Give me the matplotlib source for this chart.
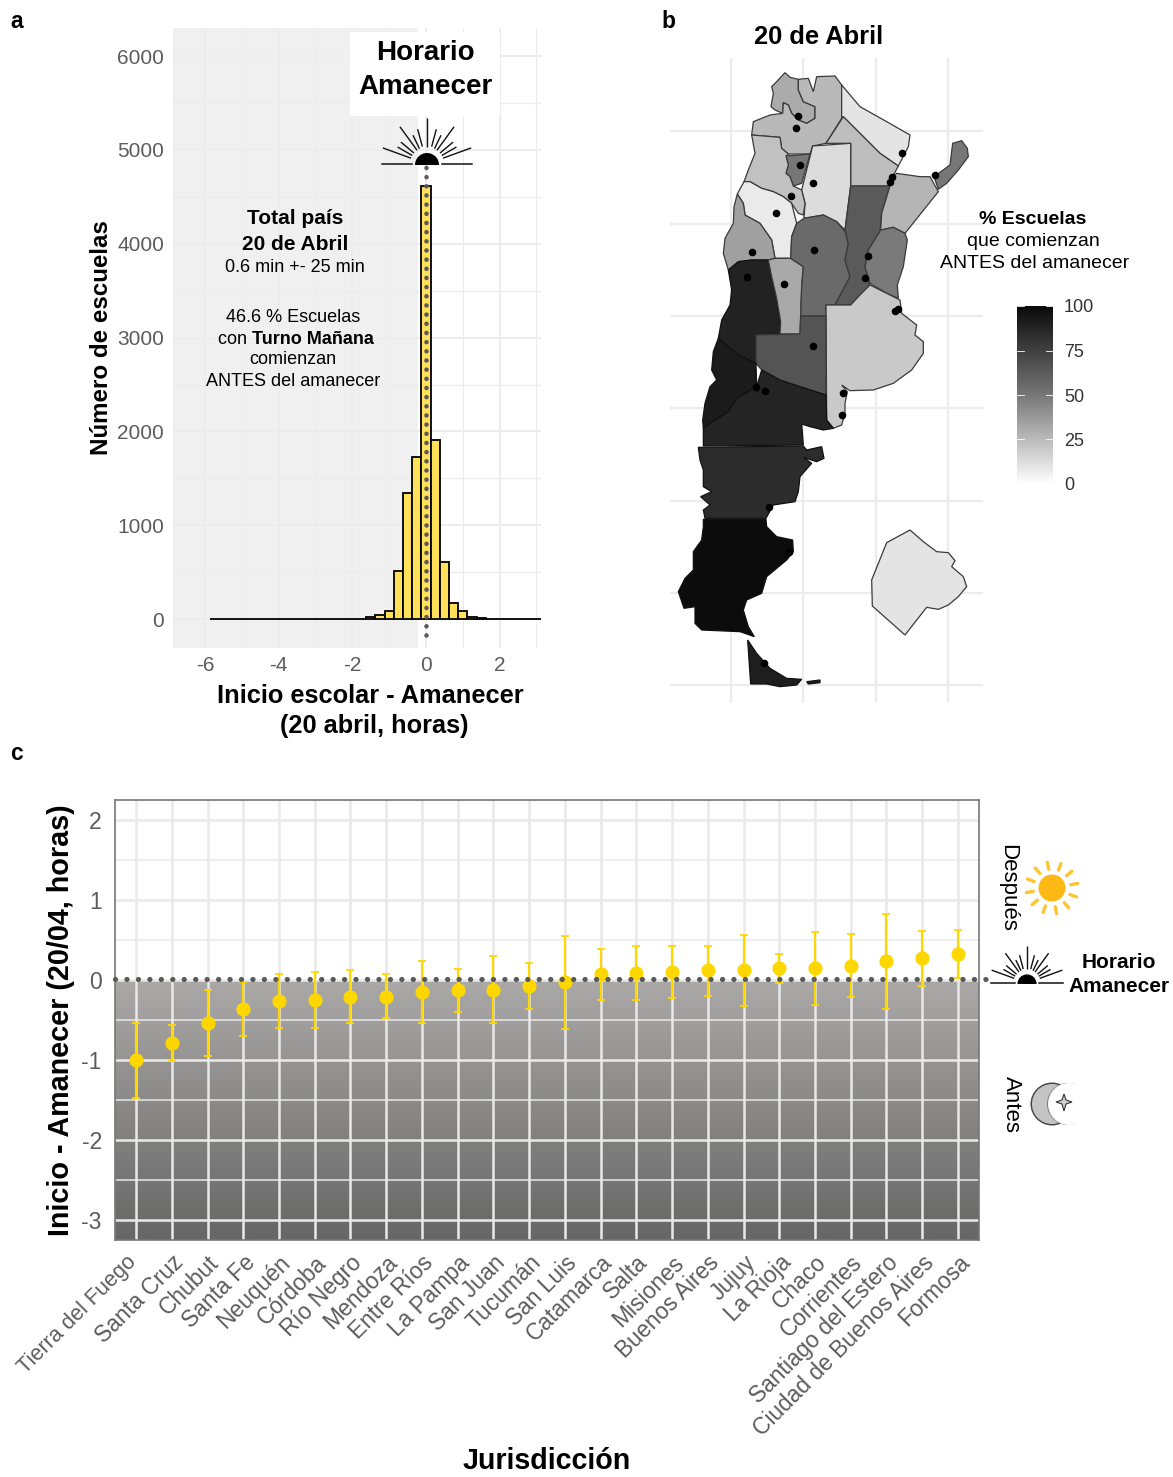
import matplotlib
matplotlib.use('Agg')
import matplotlib.pyplot as plt
import numpy as np
from matplotlib.colors import LinearSegmentedColormap, Normalize
from matplotlib.patches import Polygon, Rectangle, Circle, Wedge
from matplotlib.transforms import ScaledTranslation

plt.rcParams['font.family'] = ['Liberation Sans', 'DejaVu Sans']
plt.rcParams['axes.unicode_minus'] = False

W, H = 1173, 1477

# panel a
hist_centers = np.arange(-5.75, 3.01, 0.25)
hist_counts = [1, 0, 0, 0, 0, 0, 0, 0, 0, 0, 0, 0, 0, 1, 1, 2,
               5, 20, 40, 82, 511, 1339, 1723, 4620, 1908, 604, 170, 85,
               25, 10, 5, 3, 2, 6, 3, 2]

# panel c
jurisdicciones = ['Tierra del Fuego', 'Santa Cruz', 'Chubut', 'Santa Fe', 'Neuquén',
                  'Córdoba', 'Río Negro', 'Mendoza', 'Entre Ríos', 'La Pampa',
                  'San Juan', 'Tucumán', 'San Luis', 'Catamarca', 'Salta', 'Misiones',
                  'Buenos Aires', 'Jujuy', 'La Rioja', 'Chaco', 'Corrientes',
                  'Santiago del Estero', 'Ciudad de Buenos Aires', 'Formosa']
medias = [-1.0, -0.79, -0.54, -0.36, -0.26, -0.25, -0.21, -0.21, -0.15, -0.13, -0.12, -0.08,
          -0.03, 0.075, 0.09, 0.10, 0.12, 0.125, 0.145, 0.145, 0.18, 0.24, 0.27, 0.32]
sup = [-0.54, -0.56, -0.12, -0.02, 0.075, 0.10, 0.12, 0.07, 0.24, 0.14, 0.30, 0.21,
       0.55, 0.39, 0.43, 0.43, 0.425, 0.56, 0.33, 0.60, 0.58, 0.83, 0.61, 0.62]
inf = [-1.47, -1.01, -0.95, -0.70, -0.60, -0.60, -0.54, -0.475, -0.54, -0.40, -0.54, -0.36,
       -0.61, -0.25, -0.25, -0.225, -0.20, -0.32, -0.04, -0.31, -0.21, -0.36, -0.07, 0.02]

# panel b, outlines
pct_antes = {'Jujuy': 31, 'Salta': 26, 'Formosa': 10, 'Chaco': 24, 'Santiago del Estero': 13,
             'Tucumán': 50, 'Catamarca': 23, 'La Rioja': 8, 'San Juan': 35, 'Mendoza': 89,
             'San Luis': 32, 'Córdoba': 56, 'Santa Fe': 63, 'Corrientes': 27, 'Misiones': 50,
             'Entre Ríos': 49, 'Buenos Aires': 20, 'La Pampa': 66, 'Neuquén': 92,
             'Río Negro': 88, 'Chubut': 84, 'Santa Cruz': 99, 'Tierra del Fuego': 91,
             'Islas': 91, 'CABA': 10}
contornos = {
    'Jujuy': [(375,68),(390,82),(415,88),(415,120),(430,155),(465,170),(465,205),(440,220),(415,210),(395,190),(385,165),(370,158),(368,190),(345,180),(333,170),(340,130),(335,110),(350,95)],
    'Salta': [(415,88),(445,85),(460,125),(470,80),(525,78),(545,105),(545,205),(498,280),(458,288),(450,312),(385,312),(365,295),(360,262),(275,255),(280,215),(330,195),(368,190),(370,158),(385,165),(395,190),(415,210),(440,220),(465,205),(465,170),(430,155),(415,120)],
    'Formosa': [(545,105),(600,170),(680,215),(750,255),(745,290),(715,348),(660,310),(610,260),(550,200),(545,205)],
    'Chaco': [(550,200),(610,260),(660,310),(715,348),(695,385),(690,408),(572,408),(572,280),(498,280)],
    'Santiago del Estero': [(458,288),(572,280),(572,408),(555,540),(530,515),(490,495),(432,505),(435,460),(425,420),(450,320)],
    'Tucumán': [(378,318),(450,312),(425,400),(400,408),(390,380),(378,370),(385,345)],
    'Catamarca': [(275,255),(360,262),(365,295),(385,312),(378,318),(385,345),(378,370),(390,380),(400,408),(425,420),(435,460),(430,495),(415,490),(395,460),(370,440),(340,425),(305,415),(270,395),(252,395),(265,360),(285,310)],
    'La Rioja': [(252,395),(270,395),(305,415),(340,425),(370,440),(395,460),(410,520),(395,560),(392,625),(345,625),(335,570),(300,520),(255,495),(250,460),(232,432)],
    'San Juan': [(232,432),(250,460),(255,495),(300,520),(335,570),(345,625),(325,630),(275,630),(235,635),(205,660),(190,610),(195,565),(220,520),(222,470)],
    'Mendoza': [(205,660),(235,635),(275,630),(325,630),(335,680),(350,745),(362,830),(360,852),(288,855),(288,940),(235,915),(175,865),(185,810),(210,765),(215,720)],
    'San Luis': [(325,630),(345,625),(392,625),(430,650),(425,710),(422,795),(420,852),(360,852),(362,815),(350,745),(335,680)],
    'Córdoba': [(410,520),(432,505),(490,495),(530,515),(555,545),(565,580),(555,630),(570,680),(525,765),(498,765),(498,798),(422,798),(425,710),(430,650),(392,625),(395,560)],
    'Santa Fe': [(572,408),(690,408),(665,490),(660,545),(625,600),(615,650),(630,710),(600,735),(572,765),(525,765),(570,680),(555,630),(565,580),(555,540)],
    'Corrientes': [(710,370),(780,380),(810,380),(835,425),(735,550),(700,532),(662,540),(665,490),(690,408),(695,385)],
    'Misiones': [(822,380),(870,345),(878,280),(905,272),(922,295),(925,320),(895,360),(860,400),(835,418)],
    'Entre Ríos': [(662,540),(700,532),(735,550),(742,570),(730,650),(712,705),(715,745),(680,730),(630,700),(615,650),(625,600)],
    'Buenos Aires': [(572,765),(600,735),(630,705),(680,730),(720,750),(725,790),(770,825),(765,855),(790,875),(790,910),(755,960),(700,1000),(640,1020),(570,1022),(545,1005),(562,1025),(555,1060),(555,1090),(545,1125),(520,1135),(500,1110),(498,765)],
    'La Pampa': [(288,855),(420,852),(422,798),(498,798),(498,1035),(420,1010),(360,990),(305,960),(288,940)],
    'Neuquén': [(175,865),(235,915),(288,940),(290,1010),(230,1045),(205,1085),(165,1110),(130,1135),(128,1110),(135,1060),(150,1010),(170,990),(155,960),(160,905)],
    'Río Negro': [(290,1010),(305,960),(360,990),(420,1010),(498,1035),(500,1110),(520,1135),(490,1140),(450,1130),(425,1122),(430,1185),(130,1188),(130,1135),(165,1110),(205,1085),(230,1045)],
    'Chubut': [(115,1192),(430,1188),(440,1200),(485,1190),(492,1225),(470,1235),(430,1222),(455,1240),(420,1280),(415,1325),(405,1355),(340,1365),(318,1405),(135,1405),(130,1380),(150,1365),(122,1340),(155,1325),(130,1310),(130,1260),(120,1230)],
    'Santa Cruz': [(130,1408),(318,1408),(320,1430),(350,1460),(398,1470),(400,1505),(380,1530),(320,1580),(305,1630),(260,1650),(250,1680),(265,1730),(283,1760),(240,1745),(125,1740),(105,1720),(105,1670),(72,1675),(55,1625),(75,1585),(100,1560),(100,1505),(125,1470),(130,1430)],
    'Tierra del Fuego': [(263,1770),(290,1810),(330,1855),(380,1885),(425,1888),(410,1905),(360,1910),(320,1902),(272,1902)],
    'Islas': [(440,1895),(480,1890),(480,1898),(445,1902)],
    'CABA': [(750,1440),(790,1475),(830,1505),(865,1508),(885,1532),(875,1550),(910,1580),(920,1610),(895,1640),(865,1665),(835,1678),(800,1672),(735,1755),(637,1668),(635,1590),(680,1478)],
}
capitales_x = [414, 409, 420, 460, 394, 348, 275, 262, 371, 463, 726, 697, 689, 824, 623, 616, 459, 715, 705, 289, 316, 327, 388, 311, 548, 545]
capitales_y = [198, 234, 345, 400, 437, 489, 606, 682, 703, 600, 310, 380, 397, 376, 618, 685, 888, 778, 783, 1011, 1022, 1370, 1505, 1840, 1028, 1095]

escala_gris = LinearSegmentedColormap.from_list('gris', ['#ffffff', '#777777', '#0a0a0a'])
norma = Normalize(0, 100)

GRID = '#ececec'
TICK = '#5c5c5c'
DOTS = '#5a5a5a'


def axes_px(fig, left, top, right, bottom, **kw):
    return fig.add_axes([left / W, 1 - bottom / H, (right - left) / W, (bottom - top) / H], **kw)


def sunrise(ax, cx, cy, s=1.0):
    # rayos largos y cortos alrededor de la media luna negra
    for ang, r0, r1 in [(90, 17, 46), (126, 17, 46), (54, 17, 46), (160, 17, 47), (20, 17, 47),
                        (105, 18, 36), (75, 18, 36), (116, 17, 32), (64, 17, 32),
                        (140, 17, 34), (40, 17, 34), (150, 17, 34), (30, 17, 34)]:
        a = np.deg2rad(ang)
        ax.plot([cx + s * r0 * np.cos(a), cx + s * r1 * np.cos(a)],
                [cy - s * r0 * np.sin(a), cy - s * r1 * np.sin(a)],
                color='#111111', lw=1.0, solid_capstyle='butt')
    ax.plot([cx - s * 45, cx - s * 15], [cy, cy], color='#111111', lw=1.1)
    ax.plot([cx + s * 15, cx + s * 45], [cy, cy], color='#111111', lw=1.1)
    ax.add_patch(Wedge((cx, cy + 1), 12 * s, 180, 360, color='black', lw=0))


fig = plt.figure(figsize=(W / 100, H / 100), dpi=100)

# ---- a ----
ax = axes_px(fig, 173, 28, 541, 648)
ax.set_xlim(-6.875, 3.125)
ax.set_ylim(-308, 6300)
ax.add_patch(Rectangle((-6.875, -308), 6.65, 6608, color='#f0f0f0', lw=0, zorder=0))
ax.set_xticks([-6, -4, -2, 0, 2])
ax.set_xticks([-5, -3, -1, 1, 3], minor=True)
ax.set_yticks([0, 1000, 2000, 3000, 4000, 5000, 6000])
ax.set_yticks([500, 1500, 2500, 3500, 4500, 5500], minor=True)
ax.grid(True, which='major', color=GRID, lw=1.4, zorder=1)
ax.grid(True, which='minor', color=GRID, lw=0.9, zorder=1)
ax.set_axisbelow(True)
ax.tick_params(which='both', length=0, labelsize=15, labelcolor=TICK)
ax.tick_params(axis='y', pad=6.3)
ax.tick_params(axis='x', pad=5.5)
for s in ax.spines.values():
    s.set_visible(False)
ax.bar(hist_centers, hist_counts, width=0.25, color='#ffe05a', edgecolor='black', lw=1.3, zorder=3)
ax.plot([0, 0], [-170, 4850], color=DOTS, lw=3.3, linestyle=(0, (0.01, 1.99)),
        dash_capstyle='round', zorder=4, clip_on=False)
ax.set_xlabel('Inicio escolar - Amanecer', fontsize=18.3, fontweight='bold')
ax.xaxis.set_label_coords((370 - 173) / 368, -(696 - 648) / 620, transform=ax.transAxes)
ax.xaxis.label.set_va('center')
ax.set_ylabel('Número de escuelas', fontsize=17.4, fontweight='bold')
ax.yaxis.set_label_coords((113 - 173) / 368, (648 - 338) / 620, transform=ax.transAxes)

# ---- b ----
mp = axes_px(fig, 670, 58, 983, 703)
mp.set_xlim(30, 969)
mp.set_ylim(1959, 24)
mp.set_xticks([212, 430, 647, 863])
mp.set_yticks([243, 521, 798, 1075, 1352, 1630, 1906])
mp.grid(True, color=GRID, lw=1.6, zorder=0)
mp.set_axisbelow(True)
mp.tick_params(length=0, labelbottom=False, labelleft=False)
for s in mp.spines.values():
    s.set_visible(False)
for nombre, puntos in contornos.items():
    borde = '#111111' if pct_antes[nombre] > 80 else '#3a3a3a'
    mp.add_patch(Polygon(puntos, closed=True, facecolor=escala_gris(norma(pct_antes[nombre])),
                         edgecolor=borde, lw=0.9, zorder=2))
mp.scatter(capitales_x, capitales_y, s=30, color='black', lw=0, zorder=3)

# colorbar
cb = axes_px(fig, 1017, 306, 1053, 484)
cb.imshow(np.linspace(100, 0, 256).reshape(-1, 1), cmap=escala_gris, norm=norma, aspect='auto',
          extent=[0, 1, 0, 100])
cb.set_xticks([])
cb.set_yticks([0, 25, 50, 75, 100])
cb.yaxis.tick_right()
cb.tick_params(length=0, labelsize=13, labelcolor='#333333', pad=8)
for v in [0, 25, 50, 75, 100]:
    cb.plot([0, 0.2], [v, v], color='white', lw=0.6)
    cb.plot([0.8, 1], [v, v], color='white', lw=0.6)
cb.set_xlim(0, 1)
cb.set_ylim(0, 100)
for s in cb.spines.values():
    s.set_visible(False)

# ---- c ----
cx = axes_px(fig, 115, 800, 979, 1240)
cx.imshow(np.linspace(0, 1, 256).reshape(-1, 1), cmap=LinearSegmentedColormap.from_list('f', ['#aba9a8', '#666666']),
          aspect='auto', extent=[0.41, 24.59, -3.25, -0.02], zorder=0)
cx.set_xlim(0.41, 24.59)
cx.set_ylim(-3.25, 2.25)
posiciones = np.arange(1, len(jurisdicciones) + 1)
cx.set_xticks(posiciones)
cx.set_xticklabels(jurisdicciones, rotation=45, ha='right', va='top', rotation_mode='anchor')
cx.set_yticks([-3, -2, -1, 0, 1, 2])
cx.set_yticks([-2.5, -1.5, -0.5, 0.5, 1.5], minor=True)
cx.grid(True, which='major', color='#e9e9e9', lw=1.8, zorder=1)
cx.grid(True, which='minor', color='#e9e9e9', lw=1.1, zorder=1)
cx.tick_params(which='both', length=0, labelcolor=TICK)
cx.tick_params(axis='x', labelsize=16.4, pad=8)
cx.tick_params(axis='y', labelsize=16.5, pad=9.5)
for s in cx.spines.values():
    s.set_color('#777777')
    s.set_linewidth(1.2)
# esta etiqueta queda mas corta y corrida en el original
tierra = cx.get_xticklabels()[0]
tierra.set_fontsize(15.6)
tierra.set_transform(tierra.get_transform() + ScaledTranslation(-0.10, 0, fig.dpi_scale_trans))
medias_arr = np.array(medias)
cx.errorbar(posiciones, medias, yerr=[medias_arr - np.array(inf), np.array(sup) - medias_arr], fmt='o',
            color='#ffd700', ms=9.2, elinewidth=1.6, capsize=2.6, capthick=1.3, zorder=4)
cx.plot([0.41, 24.85], [0.012, 0.012], color=DOTS, lw=3.8, linestyle=(0, (0.01, 2.16)),
        dash_capstyle='round', zorder=5, clip_on=False)
cx.set_ylabel('Inicio - Amanecer (20/04, horas)', fontsize=20.7, fontweight='bold')
cx.yaxis.set_label_coords((75 - 115) / 864, (1240 - 1020) / 440, transform=cx.transAxes)
fig.text(547 / W, 1 - 1461 / H, 'Jurisdicción', fontsize=20.6, fontweight='bold', ha='center', va='center')

# capa de texto e iconos en pixeles
top = fig.add_axes([0, 0, 1, 1], zorder=10)
top.set_xlim(0, W)
top.set_ylim(H, 0)
top.axis('off')

top.text(374, 726, '(20 abril, horas)', fontsize=18.3, fontweight='bold', ha='center', va='center')

top.add_patch(Rectangle((350, 32), 150, 84, color='white', lw=0))
for txt, y in [('Horario', 53), ('Amanecer', 87)]:
    top.text(425, y, txt, fontsize=20, fontweight='bold', ha='center', va='center')
sunrise(top, 427, 164)

top.text(295, 219, 'Total país', fontsize=15, fontweight='bold', ha='center', va='center')
top.text(295, 245, '20 de Abril', fontsize=15, fontweight='bold', ha='center', va='center')
top.text(295, 268, '0.6 min +- 25 min', fontsize=13, ha='center', va='center')
top.text(293, 318, '46.6 % Escuelas', fontsize=13, ha='center', va='center')
top.text(252, 339, 'con ', fontsize=13, ha='right', va='center')
top.text(252, 339, 'Turno Mañana', fontsize=13, fontweight='bold', ha='left', va='center')
top.text(293, 360, 'comienzan', fontsize=13, ha='center', va='center')
top.text(293, 381, 'ANTES del amanecer', fontsize=13, ha='center', va='center')

top.text(10, 22, 'a', fontsize=16.5, fontweight='bold', va='center')
top.text(661, 22, 'b', fontsize=16.5, fontweight='bold', va='center')
top.text(10, 753, 'c', fontsize=16.5, fontweight='bold', va='center')

top.text(819, 37, '20 de Abril', fontsize=18.4, fontweight='bold', ha='center', va='center')
top.text(1033, 219, '% Escuelas', fontsize=14, fontweight='bold', ha='center', va='center')
top.text(1033, 242, 'que comienzan', fontsize=14, ha='center', va='center')
top.text(1035, 264, 'ANTES del amanecer', fontsize=14, ha='center', va='center')

top.text(1008, 888, 'Después', fontsize=16, rotation=-90, ha='center', va='center')
top.text(1011, 1104, 'Antes', fontsize=16, rotation=-90, ha='center', va='center')
top.text(1119, 963, 'Horario', fontsize=15, fontweight='bold', ha='center', va='center')
top.text(1119, 987, 'Amanecer', fontsize=15, fontweight='bold', ha='center', va='center')
sunrise(top, 1027, 983, 0.8)

# sol
top.add_patch(Circle((1052, 888), 13.5, color='#fdb913', lw=0))
for ang in np.arange(0, 360, 30) + 10:
    a = np.deg2rad(ang)
    top.plot([1052 + 19 * np.cos(a), 1052 + 26 * np.cos(a)], [888 - 19 * np.sin(a), 888 - 26 * np.sin(a)],
             color='#fdc530', lw=2.4, solid_capstyle='round')

# luna
top.add_patch(Circle((1052, 1104), 21.5, color='#4a4a4a', lw=0))
top.add_patch(Circle((1052, 1104), 20, color='#c4c4c4', lw=0))
top.add_patch(Circle((1068, 1104), 21, color='#777777', lw=0))
top.add_patch(Circle((1069, 1104), 21, color='white', lw=0))
star = [(1064, 1094), (1066, 1100), (1072, 1102), (1066, 1104), (1064, 1111), (1062, 1104), (1056, 1102), (1062, 1100)]
top.add_patch(Polygon(star, closed=True, facecolor='#cfcfcf', edgecolor='#333333', lw=0.8))

fig.savefig('out.png', dpi=100)
